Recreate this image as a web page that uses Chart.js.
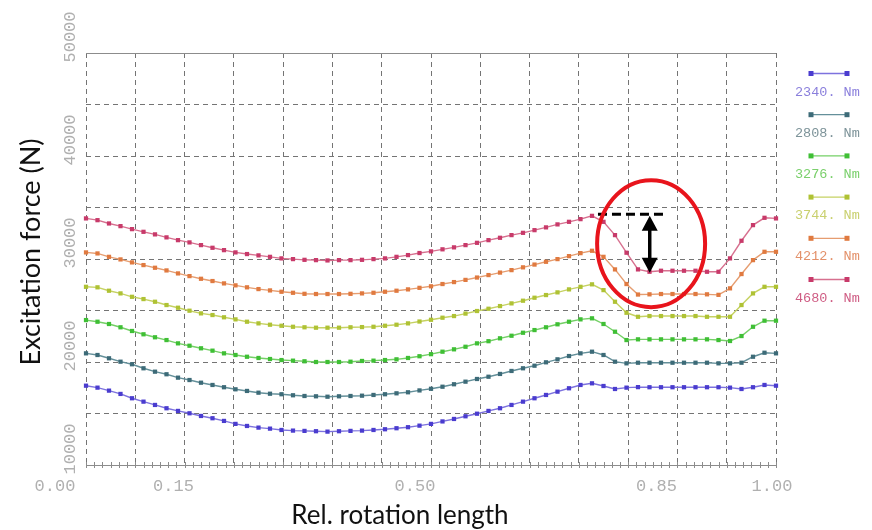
<!DOCTYPE html>
<html>
<head>
<meta charset="utf-8">
<title>Excitation force</title>
<script src="https://cdn.jsdelivr.net/npm/chart.js@4.4.1/dist/chart.umd.min.js"></script>
<style>
  html, body { margin: 0; padding: 0; background: #fff; }
  #wrap { width: 872px; height: 530px; }
</style>
</head>
<body>
<div id="wrap"><canvas id="forceChart" width="872" height="530"></canvas></div>
<script>
// excitation force vs. relative rotation length, one curve per torque

// ==================== data ====================

const torqueLabels = ['2340. Nm', '2808. Nm', '3276. Nm', '3744. Nm', '4212. Nm', '4680. Nm'];

// 61 samples per curve, evenly spaced over 0..1 (step 1/60)
const relLength = Array.from({ length: 61 }, (_, i) => i / 60);

const force2340 = [
  17700, 17510, 17220, 16900, 16480, 16150, 15830, 15510, 15250, 15020,
  14760, 14540, 14280, 13990, 13790, 13630, 13530, 13400, 13340, 13310,
  13280, 13240, 13280, 13310, 13340, 13400, 13470, 13570, 13670, 13820,
  13990, 14230, 14470, 14730, 14980, 15250, 15510, 15830, 16150, 16480,
  16800, 17120, 17450, 17770, 17930, 17670, 17380, 17510, 17560, 17550,
  17550, 17550, 17550, 17550, 17550, 17550, 17510, 17380, 17550, 17770, 17700,
];
const force2808 = [
  20840, 20680, 20360, 20030, 19780, 19390, 19060, 18810, 18480, 18250,
  17990, 17770, 17550, 17350, 17190, 17020, 16920, 16870, 16770, 16700,
  16670, 16630, 16670, 16700, 16730, 16800, 16870, 16960, 17060, 17240,
  17400, 17600, 17840, 18090, 18350, 18570, 18840, 19130, 19390, 19640,
  19970, 20260, 20580, 20840, 21000, 20680, 20030, 19870, 19930, 19930,
  19930, 19930, 19930, 19930, 19930, 19870, 19870, 19930, 20510, 20900, 20840,
];
const force3276 = [
  24070, 23910, 23690, 23370, 23010, 22690, 22400, 22130, 21810, 21580,
  21330, 21100, 20840, 20680, 20510, 20390, 20290, 20190, 20130, 20070,
  20000, 20000, 20000, 20030, 20100, 20130, 20190, 20260, 20390, 20560,
  20760, 21000, 21230, 21480, 21810, 22020, 22300, 22550, 22840, 23100,
  23370, 23660, 23910, 24140, 24240, 23690, 22940, 22130, 22200, 22200,
  22200, 22200, 22200, 22200, 22200, 22130, 22040, 22520, 23420, 24010, 24010,
];
const force3744 = [
  27300, 27250, 26920, 26660, 26330, 26110, 25850, 25530, 25270, 24980,
  24720, 24560, 24340, 24140, 23910, 23750, 23620, 23520, 23420, 23370,
  23330, 23330, 23330, 23370, 23390, 23420, 23520, 23620, 23750, 23930,
  24100, 24300, 24460, 24700, 24950, 25170, 25430, 25690, 25950, 26240,
  26500, 26760, 27050, 27300, 27540, 26980, 25850, 24780, 24390, 24460,
  24460, 24460, 24460, 24460, 24390, 24390, 24390, 25530, 26660, 27300, 27300,
];
const force4212 = [
  30640, 30540, 30210, 29960, 29670, 29410, 29150, 28890, 28600, 28340,
  28080, 27860, 27630, 27440, 27250, 27080, 26950, 26820, 26720, 26620,
  26600, 26600, 26600, 26620, 26660, 26720, 26820, 26920, 27050, 27200,
  27350, 27570, 27760, 27970, 28200, 28440, 28680, 28920, 29190, 29460,
  29730, 29990, 30280, 30570, 30800, 30210, 28990, 27570, 26550, 26570,
  26600, 26600, 26600, 26600, 26570, 26520, 27150, 28540, 29890, 30700, 30700,
];
const force4680 = [
  33940, 33770, 33450, 33190, 32900, 32640, 32390, 32100, 31830, 31610,
  31350, 31090, 30860, 30640, 30480, 30350, 30210, 30060, 29990, 29920,
  29890, 29860, 29890, 29890, 29920, 29990, 30060, 30210, 30380, 30580,
  30740, 30940, 31130, 31350, 31570, 31830, 32060, 32320, 32540, 32800,
  33070, 33360, 33610, 33870, 34190, 33610, 32320, 30610, 28990, 28760,
  28860, 28860, 28860, 28860, 28760, 28760, 30060, 31770, 33290, 34000, 33940,
];

const seriesForce = [force2340, force2808, force3276, force3744, force4212, force4680];

// axis labels
const xTickLabels = [0.0, 0.15, 0.5, 0.85, 1.0];
const yTickLabels = [10000, 20000, 30000, 40000, 50000];
// vertical grid: 14 equal divisions
const gridX = Array.from({ length: 15 }, (_, k) => k / 14);

// ==================== styles ====================

const STYLE = {
  marker: ['#4a3ccf', '#3d6b78', '#3fbf35', '#afc234', '#e07a40', '#c83a6a'],
  line: ['#7d72de', '#64909a', '#74d066', '#c6d263', '#e69d70', '#d7708f'],
  legendText: ['#8a7fdc', '#7d9399', '#7bd06c', '#c9d06e', '#e3916a', '#cf5d84'],
  grid: '#747474',
  frame: '#8c8c8c',
  tickText: '#b0b0b0',
  tickFont: '17px "Liberation Mono", "DejaVu Sans Mono", monospace',
  legendFont: '13.5px "Liberation Mono", "DejaVu Sans Mono", monospace',
};

// ==================== decorations plugin ====================

const chartDecor = {
  id: 'chartDecor',
  afterDraw(chart) {
    const { ctx, chartArea: area, scales: { x, y } } = chart;
    ctx.save();

    // solid frame line on top
    ctx.strokeStyle = STYLE.frame;
    ctx.lineWidth = 1;
    ctx.setLineDash([]);
    ctx.beginPath();
    ctx.moveTo(area.left, Math.round(area.top) + 0.5);
    ctx.lineTo(area.right, Math.round(area.top) + 0.5);
    ctx.stroke();

    // minor ticks along the bottom axis
    ctx.beginPath();
    for (let k = 0; k <= 84; k++) {
      const px = Math.round(x.getPixelForValue(k / 84)) + 0.5;
      ctx.moveTo(px, area.bottom - 3);
      ctx.lineTo(px, area.bottom + 3);
    }
    ctx.stroke();

    // x tick labels (shifted left of their tick, ends pushed outward)
    ctx.fillStyle = STYLE.tickText;
    ctx.font = STYLE.tickFont;
    ctx.textAlign = 'center';
    ctx.textBaseline = 'middle';
    xTickLabels.forEach((v, i) => {
      let shift = -16;
      if (i === 0) shift = -31;
      if (i === xTickLabels.length - 1) shift = -4;
      ctx.fillText(v.toFixed(2), x.getPixelForValue(v) + shift, area.bottom + 21);
    });

    // y tick labels, rotated, sitting just above their grid line
    yTickLabels.forEach((v) => {
      ctx.save();
      ctx.translate(area.left - 15.5, y.getPixelForValue(v) - 16);
      ctx.rotate(-Math.PI / 2);
      ctx.fillText(String(v), 0, 0);
      ctx.restore();
    });

    // axis titles
    ctx.fillStyle = '#111';
    ctx.font = '26px Lato, "Open Sans", sans-serif';
    ctx.fillText('Rel. rotation length', 400, 516);
    ctx.save();
    ctx.translate(31, 252);
    ctx.rotate(-Math.PI / 2);
    ctx.font = '27px Lato, "Open Sans", sans-serif';
    ctx.fillText('Excitation force (N)', 0, 0);
    ctx.restore();

    // legend on the right
    chart.data.datasets.forEach((ds, i) => {
      const ly = 73.5 + i * 41.2;
      ctx.strokeStyle = STYLE.line[i];
      ctx.lineWidth = 1.3;
      ctx.beginPath();
      ctx.moveTo(811, ly);
      ctx.lineTo(847, ly);
      ctx.stroke();
      ctx.fillStyle = STYLE.marker[i];
      ctx.fillRect(808.5, ly - 2.5, 5, 5);
      ctx.fillRect(844.5, ly - 2.5, 5, 5);
      ctx.fillStyle = STYLE.legendText[i];
      ctx.font = STYLE.legendFont;
      ctx.textAlign = 'left';
      ctx.fillText(ds.label, 795, ly + 18.5);
    });

    // highlight of the force drop on the top curve
    const peak = Math.max(...force4680);
    const yPeak = y.getPixelForValue(peak);
    const yDrop = y.getPixelForValue(force4680[49]);
    const xArrow = x.getPixelForValue(0.817);

    ctx.strokeStyle = '#000';
    ctx.lineWidth = 3;
    ctx.setLineDash([9, 5]);
    ctx.beginPath();
    ctx.moveTo(x.getPixelForValue(0.742), yPeak - 1.5);
    ctx.lineTo(x.getPixelForValue(0.839), yPeak - 1.5);
    ctx.stroke();
    ctx.setLineDash([]);

    ctx.lineWidth = 3.5;
    ctx.beginPath();
    ctx.moveTo(xArrow, yPeak + 12);
    ctx.lineTo(xArrow, yDrop - 12);
    ctx.stroke();
    ctx.fillStyle = '#000';
    ctx.beginPath();
    ctx.moveTo(xArrow, yPeak);
    ctx.lineTo(xArrow - 8, yPeak + 15);
    ctx.lineTo(xArrow + 8, yPeak + 15);
    ctx.closePath();
    ctx.moveTo(xArrow, yDrop + 1);
    ctx.lineTo(xArrow - 8, yDrop - 14);
    ctx.lineTo(xArrow + 8, yDrop - 14);
    ctx.closePath();
    ctx.fill();

    ctx.strokeStyle = '#e8141c';
    ctx.lineWidth = 4;
    ctx.beginPath();
    ctx.ellipse(x.getPixelForValue(0.819), y.getPixelForValue(31490), 54, 63.5, 0, 0, Math.PI * 2);
    ctx.stroke();

    ctx.restore();
  },
};

// ==================== chart ====================

const forceChart = new Chart(document.getElementById('forceChart'), {
  type: 'line',
  data: {
    datasets: seriesForce.map((values, i) => ({
      label: torqueLabels[i],
      data: values.map((v, k) => ({ x: relLength[k], y: v })),
      borderColor: STYLE.line[i],
      borderWidth: 1.4,
      pointStyle: 'rect',
      pointRadius: 3,
      pointBorderWidth: 0,
      pointBackgroundColor: STYLE.marker[i],
      pointBorderColor: STYLE.marker[i],
      tension: 0,
      clip: false,
    })),
  },
  options: {
    responsive: false,
    animation: false,
    events: [],
    layout: { padding: { left: 86, right: 96, top: 53, bottom: 65 } },
    plugins: {
      legend: { display: false },
      tooltip: { enabled: false },
    },
    scales: {
      x: {
        type: 'linear',
        min: 0,
        max: 1,
        afterBuildTicks: (scale) => {
          scale.ticks = gridX.map((v) => ({ value: v }));
        },
        ticks: { display: false },
        grid: { color: STYLE.grid, lineWidth: 1, drawTicks: false },
        border: { display: true, color: STYLE.frame, width: 1, dash: [5, 4] },
      },
      y: {
        type: 'linear',
        min: 10000,
        max: 50000,
        ticks: { display: false, stepSize: 5000 },
        grid: { color: STYLE.grid, lineWidth: 1, drawTicks: false },
        border: { display: false, dash: [5, 4] },
      },
    },
  },
  plugins: [chartDecor],
});
</script>
</body>
</html>
